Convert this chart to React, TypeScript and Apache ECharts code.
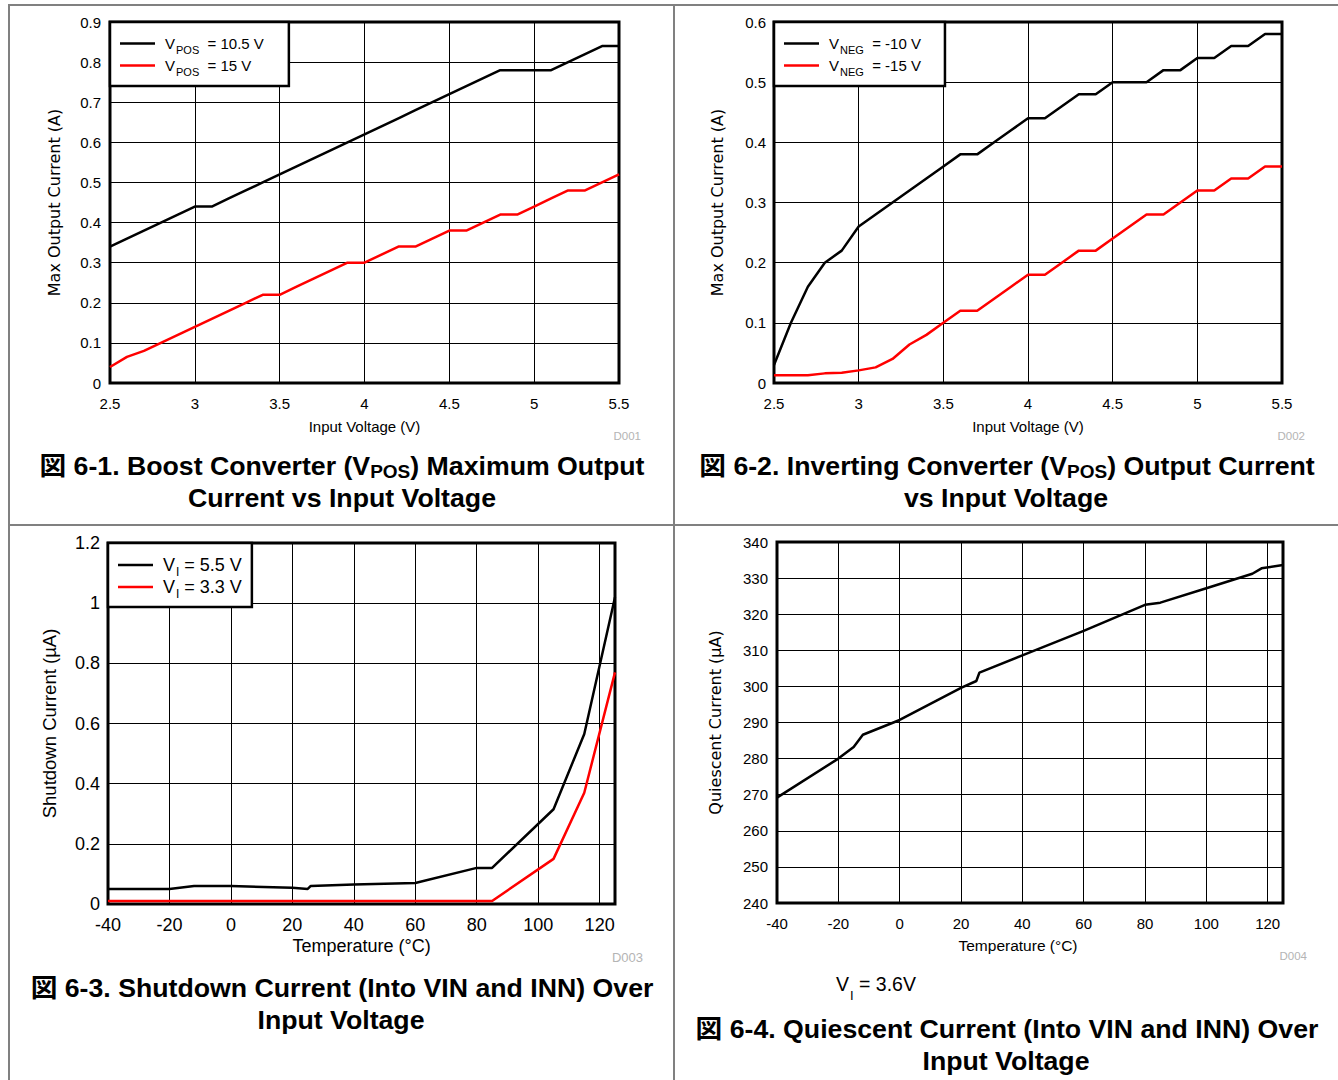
import React, { useEffect, useRef } from "react";
import * as echarts from "echarts";

// ---------- data ----------
const inputVoltage = [2.5, 2.6, 2.7, 2.8, 2.9, 3.0, 3.1, 3.2, 3.3, 3.4, 3.5, 3.6, 3.7, 3.8, 3.9, 4.0, 4.1, 4.2, 4.3, 4.4, 4.5, 4.6, 4.7, 4.8, 4.9, 5.0, 5.1, 5.2, 5.3, 5.4, 5.5];
const boostVpos105 = [0.34, 0.36, 0.38, 0.40, 0.42, 0.44, 0.44, 0.46, 0.48, 0.50, 0.52, 0.54, 0.56, 0.58, 0.60, 0.62, 0.64, 0.66, 0.68, 0.70, 0.72, 0.74, 0.76, 0.78, 0.78, 0.78, 0.78, 0.80, 0.82, 0.84, 0.84];
const boostVpos15 = [0.04, 0.065, 0.08, 0.10, 0.12, 0.14, 0.16, 0.18, 0.20, 0.22, 0.22, 0.24, 0.26, 0.28, 0.30, 0.30, 0.32, 0.34, 0.34, 0.36, 0.38, 0.38, 0.40, 0.42, 0.42, 0.44, 0.46, 0.48, 0.48, 0.50, 0.52];
const invVneg10 = [0.03, 0.10, 0.16, 0.20, 0.22, 0.26, 0.28, 0.30, 0.32, 0.34, 0.36, 0.38, 0.38, 0.40, 0.42, 0.44, 0.44, 0.46, 0.48, 0.48, 0.50, 0.50, 0.50, 0.52, 0.52, 0.54, 0.54, 0.56, 0.56, 0.58, 0.58];
const invVneg15 = [0.013, 0.013, 0.013, 0.016, 0.017, 0.021, 0.026, 0.04, 0.064, 0.08, 0.10, 0.12, 0.12, 0.14, 0.16, 0.18, 0.18, 0.20, 0.22, 0.22, 0.24, 0.26, 0.28, 0.28, 0.30, 0.32, 0.32, 0.34, 0.34, 0.36, 0.36];

const sdTemp55 = [-40, -20, -12, 0, 20, 25, 26, 40, 60, 80, 85, 105, 115, 125];
const sdCurrent55 = [0.05, 0.05, 0.06, 0.06, 0.054, 0.05, 0.06, 0.065, 0.07, 0.12, 0.12, 0.315, 0.565, 1.02];
const sdTemp33 = [-40, 85, 105, 115, 125];
const sdCurrent33 = [0.01, 0.01, 0.15, 0.37, 0.77];

const qTemp = [-40, -20, -15, -12, 0, 20, 25, 26, 40, 60, 80, 85, 100, 115, 118, 125];
const qCurrent = [269.2, 280, 283.2, 286.6, 290.7, 299.6, 301.5, 303.8, 308.6, 315.4, 322.6, 323.2, 327.2, 331.2, 332.7, 333.6];

const legendNames1 = ["VPOS = 10.5 V", "VPOS = 15 V"];
const legendNames2 = ["VNEG = -10 V", "VNEG = -15 V"];
const legendNames3 = ["VI = 5.5 V", "VI = 3.3 V"];
const legendRich: Record<string, string> = {
  "VPOS = 10.5 V": "{m|V}{s|POS}{n|  = 10.5 V}",
  "VPOS = 15 V": "{m|V}{s|POS}{n|  = 15 V}",
  "VNEG = -10 V": "{m|V}{s|NEG}{n|  = -10 V}",
  "VNEG = -15 V": "{m|V}{s|NEG}{n|  = -15 V}",
  "VI = 5.5 V": "{m|V}{s|I}{n| = 5.5 V}",
  "VI = 3.3 V": "{m|V}{s|I}{n| = 3.3 V}",
};

const FONT = '"Liberation Sans", Arial, Helvetica, sans-serif';
const WIDE = '"DejaVu Sans", Verdana, sans-serif';
const TFONT = '"Liberation Sans", Arial, "Noto Sans CJK JP", sans-serif';
const LINE_ICON = "path://M0,0H70V5H0Z";

const zip = (xs: number[], ys: number[]) => xs.map((x, i) => [x, ys[i]]);

function xAxisCfg(grid: number, min: number, max: number, interval: number, fs: number, margin: number, name: string, gap: number, nfs: number, hideMax: boolean, namePad: number[]) {
  return {
    gridIndex: grid, type: "value", min, max, interval,
    axisLine: { show: false }, axisTick: { show: false },
    splitLine: { show: true, lineStyle: { color: "#000", width: 1 } },
    axisLabel: { color: "#000", fontSize: fs, fontFamily: FONT, margin, showMaxLabel: !hideMax },
    name, nameLocation: "middle", nameGap: gap,
    nameTextStyle: { color: "#000", fontSize: nfs, fontFamily: FONT, padding: namePad },
  };
}
function yAxisCfg(grid: number, min: number, max: number, interval: number, fs: number, margin: number, name: string, gap: number, nfs: number, nfont: string) {
  return {
    gridIndex: grid, type: "value", min, max, interval,
    axisLine: { show: false }, axisTick: { show: false },
    splitLine: { show: true, lineStyle: { color: "#000", width: 1 } },
    axisLabel: { color: "#000", fontSize: fs, fontFamily: FONT, margin },
    name, nameLocation: "middle", nameRotate: 90, nameGap: gap,
    nameTextStyle: { color: "#000", fontSize: nfs, fontFamily: nfont },
  };
}
function legendCfg(left: number, top: number, names: string[], pad: number[], itemHeight: number, gap: number, fs: number, sfs: number, sp: number) {
  return {
    left, top, orient: "vertical", data: names, padding: pad,
    icon: LINE_ICON, symbolKeepAspect: true,
    itemWidth: 35, itemHeight, itemGap: gap,
    backgroundColor: "#fff", borderColor: "#000", borderWidth: 2.5, borderRadius: 0,
    selectedMode: false,
    formatter: (n: string) => legendRich[n] || n,
    textStyle: {
      color: "#000", fontSize: fs, fontFamily: FONT, lineHeight: itemHeight,
      rich: {
        m: { color: "#000", fontSize: fs, fontFamily: FONT, lineHeight: itemHeight, padding: [0, 0, 0, 5] },
        s: { color: "#000", fontSize: sfs, fontFamily: FONT, lineHeight: itemHeight, padding: [sp, 0, 0, 1] },
        n: { color: "#000", fontSize: fs, fontFamily: FONT, lineHeight: itemHeight },
      },
    },
  };
}
function lineSeries(name: string, xi: number, data: number[][], color: string) {
  return {
    type: "line", name, xAxisIndex: xi, yAxisIndex: xi, data,
    symbol: "none", showSymbol: false,
    lineStyle: { color, width: 2.5 }, itemStyle: { color },
  };
}
function title(x: number, y: number, text: string) {
  return {
    type: "text", x, y,
    style: {
      text, fill: "#000", fontSize: 26.7, fontWeight: "bold", fontFamily: TFONT,
      align: "center", verticalAlign: "middle",
      rich: { s: { fill: "#000", fontSize: 19, fontWeight: "bold", fontFamily: TFONT, padding: [11, 0, 0, 0] } },
    },
  };
}
function tag(x: number, y: number, text: string, fs: number) {
  return { type: "text", x, y, style: { text, fill: "#b4b4b4", fontSize: fs, fontFamily: FONT, align: "right", verticalAlign: "middle" } };
}
function rule(x1: number, y1: number, x2: number, y2: number) {
  return { type: "line", shape: { x1, y1, x2, y2 }, style: { stroke: "#808080", lineWidth: 2 } };
}

export default function App() {
  const ref = useRef<HTMLDivElement>(null);
  useEffect(() => {
    document.body.style.margin = "0";
    if (!ref.current) return;
    const chart = echarts.init(ref.current, undefined, { renderer: "svg" });
    const gridBase = { show: true, borderColor: "#000", borderWidth: 3, backgroundColor: "transparent" };
    chart.setOption({
      animation: false,
      grid: [
        { ...gridBase, left: 110, top: 22, width: 509, height: 361 },
        { ...gridBase, left: 774, top: 22, width: 508, height: 361 },
        { ...gridBase, left: 108, top: 543, width: 507, height: 361 },
        { ...gridBase, left: 777, top: 542, width: 506, height: 361 },
      ],
      xAxis: [
        xAxisCfg(0, 2.5, 5.5, 0.5, 15, 13, "Input Voltage (V)", 36, 15, false, [0, 0, 0, 0]),
        xAxisCfg(1, 2.5, 5.5, 0.5, 15, 13, "Input Voltage (V)", 36, 15, false, [0, 0, 0, 0]),
        xAxisCfg(2, -40, 125, 20, 18, 12, "Temperature (°C)", 33, 18, true, [0, 0, 0, 0]),
        xAxisCfg(3, -40, 125, 20, 15, 13, "Temperature (°C)", 34, 15.5, true, [0, 24, 0, 0]),
      ],
      yAxis: [
        yAxisCfg(0, 0, 0.9, 0.1, 15, 9, "Max Output Current (A)", 48, 16, WIDE),
        yAxisCfg(1, 0, 0.6, 0.1, 15, 8, "Max Output Current (A)", 49, 16, WIDE),
        yAxisCfg(2, 0, 1.2, 0.2, 18, 8, "Shutdown Current (µA)", 49, 18.5, FONT),
        yAxisCfg(3, 240, 340, 10, 15, 9, "Quiescent Current (µA)", 54, 16, WIDE),
      ],
      legend: [
        legendCfg(110, 22, legendNames1, [10, 25, 9, 10], 20, -1, 15, 11, 12),
        legendCfg(774, 22, legendNames2, [10, 24, 9, 10], 20, -1, 15, 11, 12),
        legendCfg(108, 543, legendNames3, [9, 10, 7, 10], 22, -4, 18, 12, 14),
      ],
      series: [
        lineSeries(legendNames1[0], 0, zip(inputVoltage, boostVpos105), "#000"),
        lineSeries(legendNames1[1], 0, zip(inputVoltage, boostVpos15), "#ff0000"),
        lineSeries(legendNames2[0], 1, zip(inputVoltage, invVneg10), "#000"),
        lineSeries(legendNames2[1], 1, zip(inputVoltage, invVneg15), "#ff0000"),
        lineSeries(legendNames3[0], 2, zip(sdTemp55, sdCurrent55), "#000"),
        lineSeries(legendNames3[1], 2, zip(sdTemp33, sdCurrent33), "#ff0000"),
        lineSeries("Quiescent Current", 3, zip(qTemp, qCurrent), "#000"),
      ],
      graphic: [
        rule(8, 5, 1338, 5),
        rule(9, 4, 9, 1080),
        rule(674, 4, 674, 1080),
        rule(9, 525, 1338, 525),
        title(342, 466, "図 6-1. Boost Converter (V{s|POS}) Maximum Output"),
        title(342, 498, "Current vs Input Voltage"),
        title(1007, 466, "図 6-2. Inverting Converter (V{s|POS}) Output Current"),
        title(1006, 498, "vs Input Voltage"),
        title(342, 988, "図 6-3. Shutdown Current (Into VIN and INN) Over"),
        title(341, 1020, "Input Voltage"),
        title(1007, 1029, "図 6-4. Quiescent Current (Into VIN and INN) Over"),
        title(1006, 1061, "Input Voltage"),
        tag(641, 436, "D001", 11.5),
        tag(1305, 436, "D002", 11.5),
        tag(643, 957, "D003", 13),
        tag(1307, 956, "D004", 11.5),
        {
          type: "text", x: 836, y: 984,
          style: {
            text: "V{s|I} = 3.6V", fill: "#000", fontSize: 19.5, fontFamily: FONT,
            align: "left", verticalAlign: "middle",
            rich: { s: { fill: "#000", fontSize: 13, fontFamily: FONT, padding: [22, 0, 0, 1] } },
          },
        },
      ],
    });
    return () => chart.dispose();
  }, []);
  return <div ref={ref} style={{ width: 1338, height: 1080 }} />;
}
